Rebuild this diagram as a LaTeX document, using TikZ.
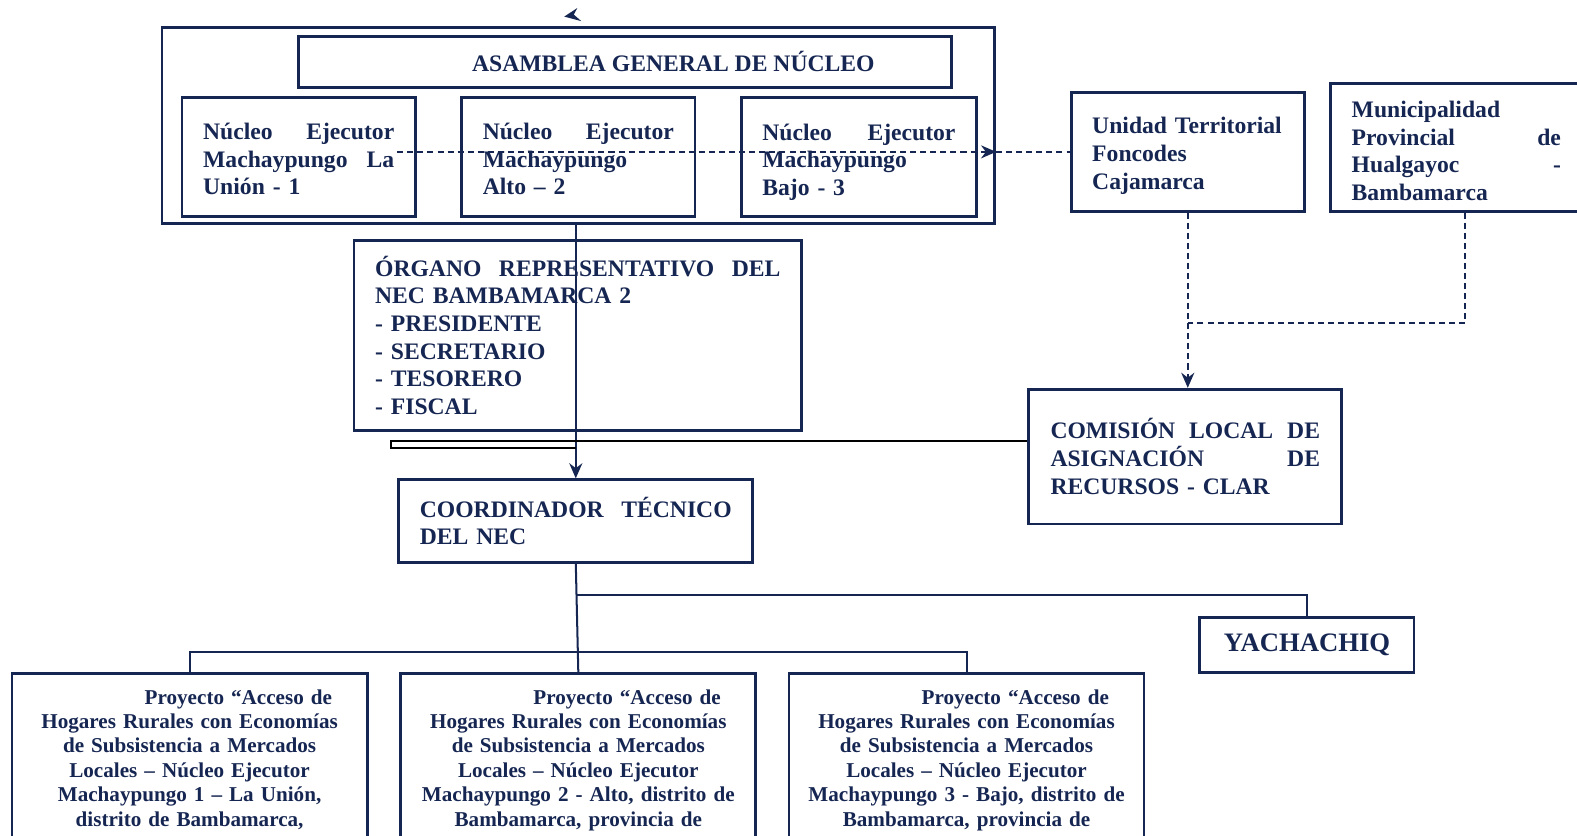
\documentclass[tikz,border=0pt]{standalone}
\usepackage{fontspec}
\setmainfont{Liberation Serif}
\usetikzlibrary{arrows.meta}

\definecolor{navy}{RGB}{22,38,82}

\tikzset{
  box/.style={rectangle,draw=navy,line width=2.8pt,text=navy,font=\bfseries\fontsize{23.5}{27.5}\selectfont,inner xsep=21pt},
  proybox/.style={rectangle,draw=navy,line width=2.8pt,text=navy,font=\bfseries\fontsize{21}{24.3}\selectfont,
    text width=341pt,align=center,inner xsep=6pt,inner ysep=16pt,anchor=north},
  link/.style={draw=navy,line width=2pt},
  dashlink/.style={draw=navy,line width=1.8pt,dash pattern=on 6pt off 4pt},
  tip/.style={-{Stealth[length=15pt,width=13pt]}}
}

\begin{document}
\begin{tikzpicture}[x=1pt,y=-1pt]
    \useasboundingbox (0,0) rectangle (1568,831);

    % assembly and executing nuclei
    \node[box,minimum width=828pt,minimum height=195pt] (outer) at (575,124.5) {};
    \node[box,minimum width=649pt,minimum height=51pt] (asam) at (621.5,61.5) {\hspace*{96pt}ASAMBLEA GENERAL DE NÚCLEO};
    \node[box,minimum width=232pt,minimum height=118pt,text width=190pt,align=left] (nu1) at (297,156)
        {\rule{0pt}{20.5pt}Núcleo\hfill Ejecutor\\Machaypungo\hfill La\\Unión - 1};
    \node[box,minimum width=232pt,minimum height=118pt,text width=190pt,align=left] (nu2) at (575,156)
        {\rule{0pt}{20.5pt}Núcleo\hfill Ejecutor\\Machaypungo\\Alto – 2};
    \node[box,minimum width=234pt,minimum height=118pt,text width=192pt,align=left] (nu3) at (854,156)
        {\rule{0pt}{26.5pt}Núcleo\hfill Ejecutor\\Machaypungo\\Bajo - 3};

    % stray arrow tip above the frame
    \fill[navy] (561,16.5) -- (574,8) -- (570.5,14.5) -- (578,21) -- cycle;

    % outside bodies
    \node[box,minimum width=232pt,minimum height=118pt,text width=190pt,align=left] (ut) at (1181,151)
        {\rule{0pt}{24pt}Unidad Territorial\\Foncodes\\Cajamarca};
    \node[box,minimum width=250pt,minimum height=127pt,text width=208pt,align=left] (muni) at (1448,146.5)
        {\rule{0pt}{28pt}Municipalidad\\Provincial\hfill de\\Hualgayoc\hfill -\\Bambamarca\vphantom{j}};
    \node[box,minimum width=311pt,minimum height=134pt,text width=268pt,align=left] (clar) at (1178.5,454)
        {COMISIÓN\hfill LOCAL\hfill DE\\ASIGNACIÓN\hfill DE\\RECURSOS - CLAR};

    % representative body and coordinator
    \node[box,minimum width=445pt,minimum height=189pt,text width=403pt,align=left] (org) at (574.5,333.5)
        {ÓRGANO\hfill REPRESENTATIVO\hfill DEL\\NEC BAMBAMARCA 2\\- PRESIDENTE\\- SECRETARIO\\- TESORERO\\- FISCAL};
    \node[box,minimum width=351pt,minimum height=82pt,text width=310pt,align=left] (coord) at (572.5,518)
        {COORDINADOR\hfill TÉCNICO\\DEL NEC};
    \node[box,minimum width=213pt,minimum height=55pt,font=\bfseries\fontsize{26.5}{30}\selectfont] (yach) at (1299.5,641.5) {YACHACHIQ};

    % projects
    \node[proybox] (proy1) at (188.5,668)
        {\hspace*{97pt}Proyecto “Acceso de\\Hogares Rurales con Economías\\de Subsistencia a Mercados\\Locales – Núcleo Ejecutor\\Machaypungo 1 – La Unión,\\distrito de Bambamarca,\\[40pt]\mbox{}};
    \node[proybox] (proy2) at (575,668)
        {\hspace*{97pt}Proyecto “Acceso de\\Hogares Rurales con Economías\\de Subsistencia a Mercados\\Locales – Núcleo Ejecutor\\Machaypungo 2 - Alto, distrito de\\Bambamarca, provincia de\\[40pt]\mbox{}};
    \node[proybox] (proy3) at (961,668)
        {\hspace*{97pt}Proyecto “Acceso de\\Hogares Rurales con Economías\\de Subsistencia a Mercados\\Locales – Núcleo Ejecutor\\Machaypungo 3 - Bajo, distrito de\\Bambamarca, provincia de\\[40pt]\mbox{}};

    % dashed links
    \coordinate (dstart) at (395,151);
    \coordinate (dmeet) at (0,321);
    \draw[dashlink,tip] (dstart) -- (outer.east |- dstart);
    \draw[dashlink] (outer.east |- dstart) -- (ut.west);
    \draw[dashlink,tip] (ut.south) -- (ut.south |- clar.north);
    \draw[dashlink] ([xshift=9pt]muni.south) |- (ut.south |- dmeet);

    % solid links
    \coordinate (clarline) at (0,438.5);
    \coordinate (clarlow) at (389,445.5);
    \draw[link,tip] (coord.north |- outer.south) -- (coord.north);
    \draw[black,line width=1.5pt] (clar.west |- clarline) -- (clarlow |- clarline) -- (clarlow) -- (coord.north |- clarlow);
    \coordinate (brtop) at (0,592);
    \draw[link] (coord.south) -- (proy2.north);
    \draw[link] (coord.south |- brtop) -| (yach.north);
    \draw[link] (proy1.north) -- ++(0,-20) -| (proy3.north);
\end{tikzpicture}
\end{document}
